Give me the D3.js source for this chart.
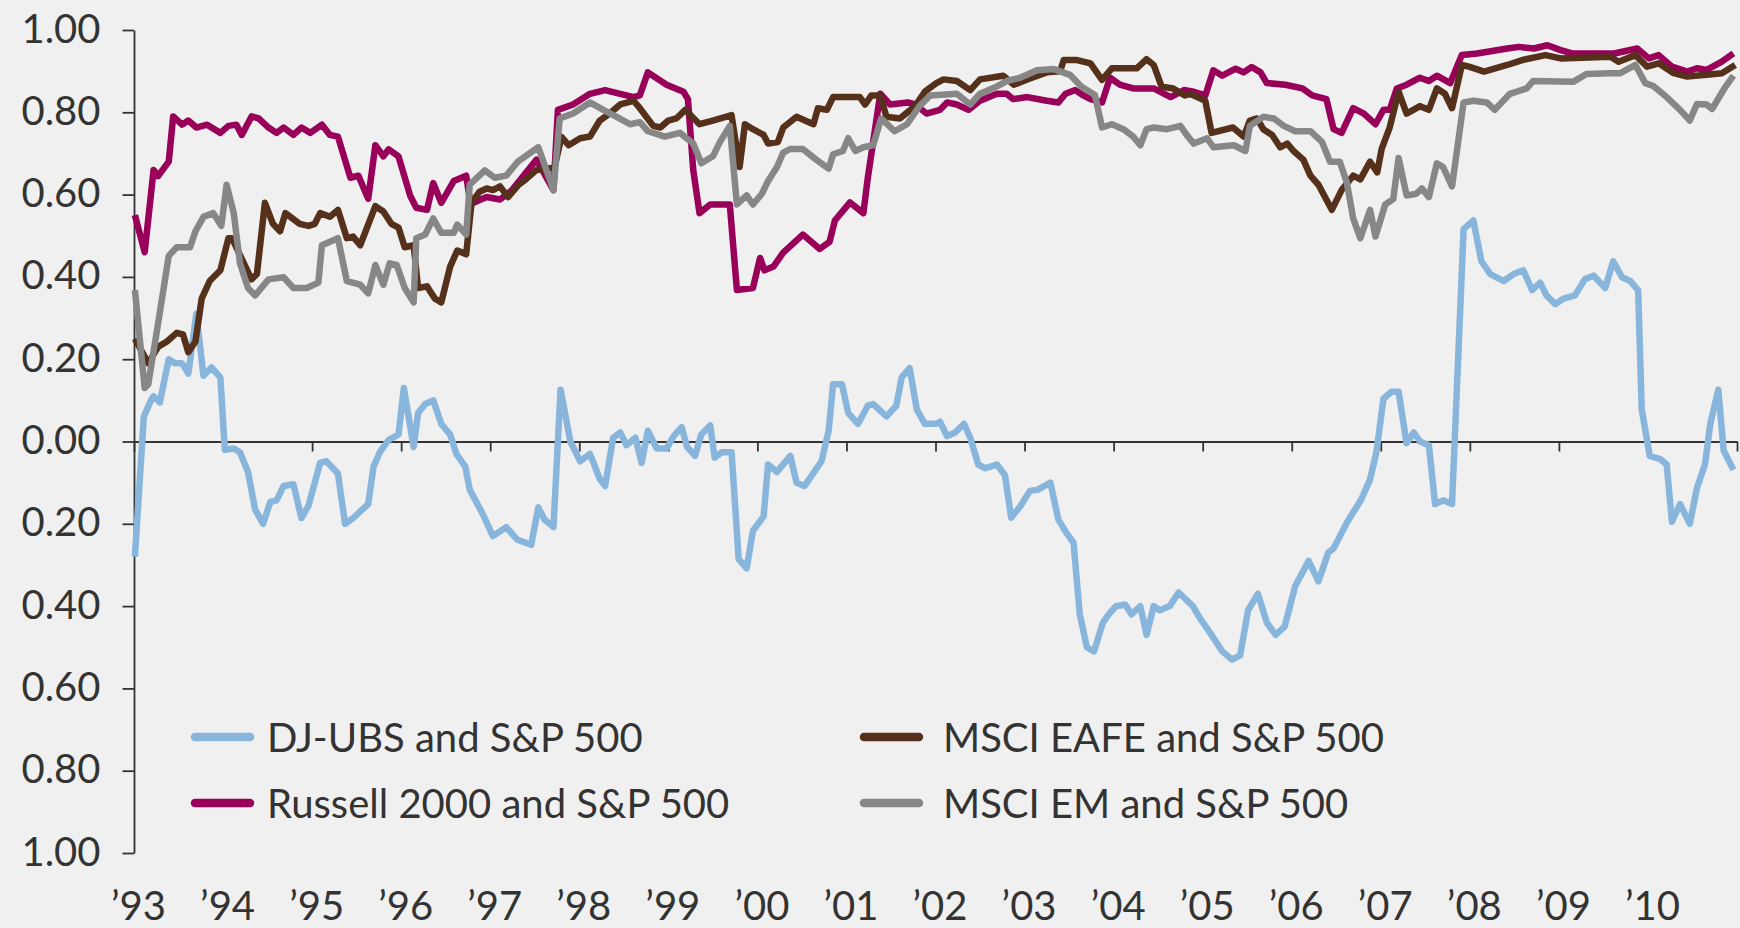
<!DOCTYPE html>
<html>
<head>
<meta charset="utf-8">
<script src="https://cdn.jsdelivr.net/npm/d3@7"></script>
<style>
  html, body { margin: 0; padding: 0; background: #f0f0f0; }
  svg { display: block; }
  text { font-family: Lato, 'Open Sans', sans-serif; fill: #333; }
</style>
</head>
<body>
<div id="chart"></div>
<script>
// ── Axis values ──────────────────────────────────────────────
const YEARS = d3.range(1993, 2012);                 // tick at every Jan
const YEAR_LABELS = ['’93','’94','’95','’96','’97','’98','’99','’00','’01',
  '’02','’03','’04','’05','’06','’07','’08','’09','’10'];
const Y_TICKS = [-1, -0.8, -0.6, -0.4, -0.2, 0, 0.2, 0.4, 0.6, 0.8, 1];

// ── Series: [decimal year, correlation] ─────────────────────
const DJUBS = [
  [1993.01,-0.28],[1993.11,0.06],[1993.19,0.10],[1993.22,0.11],[1993.29,0.095],[1993.39,0.20],
  [1993.46,0.19],[1993.54,0.19],[1993.61,0.165],[1993.70,0.31],[1993.78,0.16],[1993.87,0.18],
  [1993.97,0.155],[1994.02,-0.02],[1994.12,-0.017],[1994.19,-0.026],[1994.28,-0.074],[1994.36,-0.165],
  [1994.45,-0.20],[1994.53,-0.147],[1994.60,-0.143],[1994.68,-0.108],[1994.79,-0.104],[1994.88,-0.186],
  [1994.96,-0.156],[1995.09,-0.052],[1995.16,-0.048],[1995.29,-0.078],[1995.37,-0.20],[1995.46,-0.186],
  [1995.63,-0.152],[1995.69,-0.061],[1995.76,-0.026],[1995.86,0.004],[1995.97,0.017],[1996.03,0.13],
  [1996.14,-0.013],[1996.19,0.069],[1996.27,0.091],[1996.36,0.10],[1996.45,0.043],[1996.55,0.017],
  [1996.62,-0.03],[1996.72,-0.061],[1996.77,-0.117],[1996.92,-0.178],[1997.03,-0.23],[1997.18,-0.208],
  [1997.30,-0.238],[1997.46,-0.251],[1997.54,-0.16],[1997.61,-0.19],[1997.71,-0.208],[1997.79,0.126],
  [1997.90,0.0],[1998.01,-0.048],[1998.12,-0.03],[1998.23,-0.091],[1998.29,-0.108],[1998.38,0.009],
  [1998.46,0.022],[1998.53,-0.009],[1998.63,0.009],[1998.70,-0.052],[1998.77,0.026],[1998.87,-0.017],
  [1998.98,-0.017],[1999.06,0.013],[1999.15,0.035],[1999.21,-0.013],[1999.30,-0.035],[1999.37,0.017],
  [1999.47,0.039],[1999.52,-0.039],[1999.60,-0.026],[1999.71,-0.026],[1999.79,-0.286],[1999.88,-0.308],
  [1999.95,-0.217],[2000.07,-0.182],[2000.12,-0.056],[2000.22,-0.074],[2000.37,-0.035],[2000.44,-0.10],
  [2000.53,-0.108],[2000.72,-0.048],[2000.80,0.026],[2000.85,0.139],[2000.95,0.139],[2001.02,0.069],
  [2001.13,0.043],[2001.24,0.087],[2001.30,0.091],[2001.45,0.061],[2001.56,0.087],[2001.62,0.156],
  [2001.71,0.178],[2001.79,0.078],[2001.88,0.043],[2002.01,0.043],[2002.05,0.048],[2002.13,0.013],
  [2002.22,0.022],[2002.32,0.043],[2002.39,0.009],[2002.48,-0.056],[2002.56,-0.065],[2002.69,-0.056],
  [2002.78,-0.082],[2002.85,-0.185],[2002.95,-0.158],[2003.06,-0.12],[2003.15,-0.117],[2003.29,-0.10],
  [2003.38,-0.19],[2003.47,-0.222],[2003.55,-0.246],[2003.62,-0.42],[2003.70,-0.50],[2003.78,-0.51],
  [2003.88,-0.44],[2003.96,-0.416],[2004.03,-0.40],[2004.13,-0.396],[2004.20,-0.42],[2004.30,-0.40],
  [2004.37,-0.47],[2004.45,-0.40],[2004.52,-0.41],[2004.63,-0.40],[2004.73,-0.367],[2004.89,-0.40],
  [2004.97,-0.43],[2005.10,-0.47],[2005.22,-0.51],[2005.33,-0.53],[2005.42,-0.52],[2005.51,-0.41],
  [2005.62,-0.37],[2005.72,-0.44],[2005.82,-0.47],[2005.92,-0.45],[2006.04,-0.351],[2006.19,-0.29],
  [2006.30,-0.34],[2006.41,-0.27],[2006.47,-0.26],[2006.62,-0.197],[2006.78,-0.141],[2006.88,-0.092],
  [2006.95,-0.027],[2007.03,0.104],[2007.12,0.121],[2007.20,0.121],[2007.29,-0.004],[2007.37,0.022],
  [2007.44,0.0],[2007.54,-0.009],[2007.61,-0.152],[2007.70,-0.143],[2007.80,-0.152],[2007.93,0.516],
  [2008.04,0.537],[2008.13,0.438],[2008.23,0.407],[2008.38,0.39],[2008.49,0.407],[2008.60,0.416],
  [2008.70,0.368],[2008.79,0.386],[2008.86,0.355],[2008.96,0.334],[2009.05,0.347],[2009.18,0.355],
  [2009.29,0.394],[2009.39,0.403],[2009.52,0.373],[2009.61,0.438],[2009.71,0.399],[2009.80,0.39],
  [2009.89,0.368],[2009.93,0.078],[2010.02,-0.035],[2010.14,-0.043],[2010.21,-0.056],[2010.27,-0.195],
  [2010.36,-0.152],[2010.47,-0.20],[2010.55,-0.113],[2010.64,-0.056],[2010.70,0.043],[2010.79,0.126],
  [2010.85,-0.022],[2010.96,-0.069]
];

const RUSSELL = [
  [1993.01,0.55],[1993.12,0.46],[1993.22,0.66],[1993.27,0.645],[1993.39,0.68],[1993.44,0.79],
  [1993.54,0.77],[1993.61,0.78],[1993.70,0.763],[1993.82,0.77],[1993.97,0.75],[1994.06,0.767],
  [1994.15,0.77],[1994.21,0.745],[1994.32,0.79],[1994.40,0.785],[1994.51,0.763],[1994.60,0.75],
  [1994.68,0.763],[1994.79,0.745],[1994.88,0.763],[1994.98,0.75],[1995.11,0.77],[1995.20,0.745],
  [1995.29,0.741],[1995.43,0.641],[1995.52,0.646],[1995.63,0.59],[1995.71,0.72],[1995.80,0.693],
  [1995.86,0.71],[1995.97,0.693],[1996.10,0.598],[1996.17,0.568],[1996.29,0.563],[1996.36,0.628],
  [1996.45,0.58],[1996.59,0.633],[1996.73,0.646],[1996.77,0.59],[1996.81,0.58],[1996.96,0.594],
  [1997.11,0.588],[1997.24,0.61],[1997.52,0.685],[1997.71,0.611],[1997.76,0.806],[1997.93,0.819],
  [1998.12,0.845],[1998.29,0.854],[1998.46,0.845],[1998.61,0.837],[1998.68,0.841],[1998.77,0.897],
  [1998.98,0.867],[1999.17,0.85],[1999.22,0.832],[1999.28,0.659],[1999.35,0.555],[1999.47,0.576],
  [1999.69,0.576],[1999.77,0.368],[1999.95,0.373],[2000.03,0.446],[2000.08,0.416],[2000.18,0.425],
  [2000.29,0.459],[2000.51,0.503],[2000.70,0.468],[2000.81,0.485],[2000.87,0.537],[2001.04,0.581],
  [2001.19,0.555],[2001.24,0.641],[2001.38,0.845],[2001.49,0.819],[2001.69,0.824],[2001.77,0.819],
  [2001.90,0.797],[2002.05,0.806],[2002.13,0.824],[2002.24,0.819],[2002.37,0.806],[2002.50,0.828],
  [2002.69,0.845],[2002.80,0.845],[2002.87,0.832],[2003.03,0.837],[2003.25,0.828],[2003.38,0.824],
  [2003.46,0.845],[2003.57,0.854],[2003.66,0.841],[2003.74,0.832],[2003.87,0.824],[2003.96,0.884],
  [2004.07,0.867],[2004.22,0.858],[2004.45,0.858],[2004.64,0.837],[2004.79,0.854],[2004.90,0.85],
  [2005.03,0.841],[2005.12,0.902],[2005.22,0.889],[2005.37,0.906],[2005.46,0.897],[2005.55,0.91],
  [2005.65,0.897],[2005.72,0.871],[2005.93,0.867],[2006.12,0.858],[2006.23,0.841],[2006.39,0.832],
  [2006.47,0.759],[2006.56,0.75],[2006.69,0.81],[2006.81,0.797],[2006.94,0.771],[2007.03,0.806],
  [2007.10,0.806],[2007.18,0.858],[2007.29,0.867],[2007.44,0.884],[2007.54,0.876],[2007.63,0.889],
  [2007.78,0.871],[2007.91,0.939],[2008.08,0.943],[2008.42,0.955],[2008.55,0.959],[2008.72,0.955],
  [2008.87,0.963],[2009.02,0.951],[2009.15,0.943],[2009.62,0.943],[2009.88,0.955],[2010.01,0.931],
  [2010.12,0.939],[2010.27,0.911],[2010.44,0.899],[2010.55,0.907],[2010.66,0.903],[2010.83,0.923],
  [2010.96,0.943]
];

const EAFE = [
  [1993.01,0.25],[1993.16,0.19],[1993.27,0.23],[1993.37,0.243],[1993.48,0.264],[1993.55,0.26],
  [1993.61,0.217],[1993.69,0.243],[1993.76,0.347],[1993.85,0.39],[1993.97,0.416],[1994.06,0.494],
  [1994.10,0.494],[1994.32,0.394],[1994.38,0.407],[1994.47,0.58],[1994.56,0.529],[1994.64,0.511],
  [1994.70,0.555],[1994.86,0.529],[1994.96,0.524],[1995.03,0.529],[1995.09,0.555],[1995.20,0.546],
  [1995.29,0.563],[1995.39,0.494],[1995.46,0.498],[1995.54,0.477],[1995.71,0.572],[1995.80,0.559],
  [1995.89,0.529],[1995.97,0.52],[1996.04,0.472],[1996.14,0.477],[1996.19,0.373],[1996.29,0.377],
  [1996.38,0.347],[1996.45,0.338],[1996.55,0.425],[1996.63,0.464],[1996.73,0.455],[1996.79,0.58],
  [1996.88,0.607],[1996.96,0.615],[1997.03,0.611],[1997.11,0.62],[1997.20,0.594],[1997.32,0.624],
  [1997.40,0.637],[1997.52,0.66],[1997.72,0.665],[1997.80,0.74],[1997.88,0.72],[1998.01,0.737],
  [1998.12,0.741],[1998.23,0.78],[1998.34,0.797],[1998.46,0.819],[1998.61,0.828],[1998.68,0.81],
  [1998.83,0.767],[1998.91,0.763],[1999.00,0.78],[1999.09,0.785],[1999.19,0.806],[1999.35,0.771],
  [1999.50,0.78],[1999.71,0.793],[1999.80,0.667],[1999.86,0.771],[1999.95,0.759],[2000.07,0.745],
  [2000.12,0.724],[2000.23,0.728],[2000.29,0.763],[2000.44,0.789],[2000.63,0.771],[2000.68,0.81],
  [2000.78,0.806],[2000.85,0.837],[2001.15,0.837],[2001.21,0.819],[2001.28,0.841],[2001.38,0.841],
  [2001.45,0.789],[2001.60,0.785],[2001.77,0.815],[2001.88,0.85],[2002.01,0.871],[2002.09,0.88],
  [2002.24,0.876],[2002.39,0.854],[2002.50,0.88],[2002.76,0.889],[2002.88,0.867],[2003.03,0.88],
  [2003.25,0.897],[2003.40,0.90],[2003.44,0.927],[2003.59,0.927],[2003.74,0.919],[2003.87,0.879],
  [2003.98,0.907],[2004.26,0.907],[2004.37,0.929],[2004.45,0.915],[2004.54,0.862],[2004.67,0.858],
  [2004.80,0.841],[2004.86,0.845],[2005.03,0.828],[2005.10,0.75],[2005.34,0.763],[2005.46,0.741],
  [2005.53,0.78],[2005.61,0.785],[2005.68,0.759],[2005.78,0.745],[2005.87,0.715],[2005.95,0.724],
  [2006.02,0.706],[2006.13,0.685],[2006.21,0.646],[2006.30,0.624],[2006.45,0.563],[2006.56,0.611],
  [2006.69,0.646],[2006.77,0.637],[2006.88,0.68],[2006.96,0.654],[2007.01,0.711],[2007.10,0.763],
  [2007.20,0.85],[2007.29,0.797],[2007.44,0.815],[2007.54,0.806],[2007.63,0.858],[2007.72,0.845],
  [2007.80,0.81],[2007.91,0.915],[2007.99,0.911],[2008.16,0.899],[2008.42,0.915],[2008.59,0.927],
  [2008.85,0.939],[2009.02,0.931],[2009.58,0.935],[2009.67,0.923],[2009.86,0.939],[2009.99,0.911],
  [2010.12,0.919],[2010.29,0.895],[2010.44,0.887],[2010.66,0.891],[2010.83,0.895],[2010.98,0.915]
];

const EM = [
  [1993.01,0.368],[1993.12,0.13],[1993.16,0.139],[1993.27,0.286],[1993.39,0.451],[1993.48,0.472],
  [1993.63,0.472],[1993.69,0.511],[1993.78,0.546],[1993.89,0.555],[1993.98,0.524],[1994.04,0.624],
  [1994.12,0.555],[1994.19,0.433],[1994.28,0.373],[1994.36,0.355],[1994.51,0.394],[1994.68,0.399],
  [1994.79,0.373],[1994.94,0.373],[1995.07,0.386],[1995.11,0.477],[1995.29,0.494],[1995.39,0.39],
  [1995.54,0.381],[1995.63,0.36],[1995.71,0.429],[1995.80,0.381],[1995.87,0.433],[1995.95,0.429],
  [1996.04,0.373],[1996.14,0.338],[1996.17,0.494],[1996.27,0.503],[1996.36,0.542],[1996.45,0.507],
  [1996.59,0.507],[1996.63,0.527],[1996.73,0.503],[1996.77,0.624],[1996.94,0.659],[1997.05,0.641],
  [1997.18,0.646],[1997.31,0.68],[1997.54,0.715],[1997.71,0.611],[1997.78,0.785],[1997.93,0.797],
  [1998.12,0.824],[1998.27,0.806],[1998.42,0.789],[1998.57,0.771],[1998.68,0.776],[1998.77,0.754],
  [1998.96,0.741],[1999.13,0.75],[1999.28,0.724],[1999.37,0.676],[1999.50,0.693],[1999.58,0.728],
  [1999.69,0.767],[1999.77,0.576],[1999.88,0.598],[1999.95,0.576],[2000.05,0.602],[2000.12,0.633],
  [2000.22,0.667],[2000.29,0.702],[2000.37,0.711],[2000.51,0.711],[2000.66,0.685],[2000.80,0.663],
  [2000.85,0.698],[2000.96,0.706],[2001.02,0.737],[2001.10,0.706],[2001.19,0.715],[2001.30,0.72],
  [2001.39,0.785],[2001.54,0.754],[2001.68,0.771],[2001.82,0.815],[2001.94,0.841],[2002.24,0.845],
  [2002.39,0.819],[2002.50,0.845],[2002.69,0.863],[2002.80,0.876],[2002.95,0.884],[2003.14,0.902],
  [2003.33,0.905],[2003.51,0.891],[2003.64,0.862],[2003.79,0.842],[2003.87,0.763],[2003.98,0.771],
  [2004.11,0.759],[2004.22,0.741],[2004.30,0.72],[2004.37,0.759],[2004.45,0.763],[2004.60,0.759],
  [2004.75,0.767],[2004.82,0.745],[2004.90,0.724],[2005.05,0.737],[2005.12,0.715],[2005.35,0.72],
  [2005.48,0.706],[2005.53,0.767],[2005.68,0.789],[2005.80,0.785],[2005.91,0.767],[2006.04,0.754],
  [2006.21,0.754],[2006.34,0.728],[2006.43,0.68],[2006.54,0.68],[2006.62,0.628],[2006.69,0.542],
  [2006.77,0.494],[2006.88,0.563],[2006.94,0.498],[2007.05,0.576],[2007.14,0.589],[2007.20,0.689],
  [2007.29,0.598],[2007.40,0.602],[2007.46,0.615],[2007.54,0.594],[2007.63,0.676],[2007.70,0.667],
  [2007.80,0.62],[2007.93,0.824],[2008.04,0.828],[2008.19,0.824],[2008.28,0.806],[2008.45,0.845],
  [2008.64,0.858],[2008.71,0.876],[2009.16,0.874],[2009.31,0.893],[2009.57,0.895],[2009.69,0.895],
  [2009.86,0.915],[2009.97,0.871],[2010.06,0.864],[2010.21,0.837],[2010.36,0.806],[2010.47,0.78],
  [2010.55,0.82],[2010.66,0.819],[2010.72,0.808],[2010.87,0.862],[2010.96,0.889]
];

const SERIES_LABELS = ['DJ-UBS and S&P 500', 'Russell 2000 and S&P 500',
  'MSCI EAFE and S&P 500', 'MSCI EM and S&P 500'];

// ── Layout / style ───────────────────────────────────────────
const W = 1740, H = 928;
const COLORS = {
  djubs:   '#88b5dc',
  russell: '#990059',
  eafe:    '#55301a',
  em:      '#878787',
  axis:    '#333333',
};
const FONT = 40;

const x = d3.scaleLinear().domain([1993, 2011]).range([134, 1737]);
const y = d3.scaleLinear().domain([-1, 1]).range([853, 30]);

const svg = d3.select('#chart').append('svg')
  .attr('width', W).attr('height', H)
  .attr('viewBox', `0 0 ${W} ${H}`);

svg.append('rect').attr('width', W).attr('height', H).attr('fill', '#f0f0f0');

// ── Y axis ───────────────────────────────────────────────────
const yAxis = svg.append('g')
  .attr('transform', `translate(${x(1993)},0)`)
  .call(d3.axisLeft(y)
    .tickValues(Y_TICKS)
    .tickSize(11.5)
    .tickSizeOuter(0)
    .tickPadding(22)
    .tickFormat(d => Math.abs(d).toFixed(2)));
yAxis.selectAll('path, line').attr('stroke', COLORS.axis).attr('stroke-width', 1.8);
yAxis.selectAll('text')
  .attr('font-size', FONT).attr('fill', COLORS.axis)
  .attr('font-family', 'Lato, sans-serif')
  .attr('dy', '0.3em');

// ── X axis on the zero line ──────────────────────────────────
const xAxis = svg.append('g')
  .attr('transform', `translate(0,${y(0)})`)
  .call(d3.axisBottom(x)
    .tickValues(YEARS)
    .tickSize(10)
    .tickSizeOuter(0)
    .tickFormat(''));
xAxis.selectAll('path, line').attr('stroke', COLORS.axis).attr('stroke-width', 1.8);

// ── Year labels along the bottom ─────────────────────────────
const xLabels = svg.append('g')
  .attr('transform', 'translate(0,920)')
  .call(d3.axisBottom(x)
    .tickValues(YEARS.slice(0, YEAR_LABELS.length))
    .tickSize(0)
    .tickFormat((d, i) => YEAR_LABELS[i]));
xLabels.select('.domain').remove();
xLabels.selectAll('text')
  .attr('y', 0).attr('dy', null).attr('dx', 4)
  .attr('font-size', FONT).attr('fill', COLORS.axis)
  .attr('font-family', 'Lato, sans-serif');

// ── Lines ────────────────────────────────────────────────────
const line = d3.line().x(d => x(d[0])).y(d => y(d[1]));

[[DJUBS, COLORS.djubs], [RUSSELL, COLORS.russell], [EAFE, COLORS.eafe], [EM, COLORS.em]]
  .forEach(([data, color]) => {
    svg.append('path')
      .datum(data)
      .attr('d', line)
      .attr('fill', 'none')
      .attr('stroke', color)
      .attr('stroke-width', 6.5)
      .attr('stroke-linejoin', 'round');
  });

// ── Legend ───────────────────────────────────────────────────
const legendItems = [
  { label: SERIES_LABELS[0], color: COLORS.djubs,   col: 0, row: 0 },
  { label: SERIES_LABELS[1], color: COLORS.russell, col: 0, row: 1 },
  { label: SERIES_LABELS[2], color: COLORS.eafe,    col: 1, row: 0 },
  { label: SERIES_LABELS[3], color: COLORS.em,      col: 1, row: 1 },
];
const colLineX = [191, 860];
const colTextX = [267, 943];
const rowY = [737, 803];

const legend = svg.append('g');
legendItems.forEach(it => {
  const lx = colLineX[it.col], ly = rowY[it.row];
  legend.append('line')
    .attr('x1', lx + 4).attr('x2', lx + 59)
    .attr('y1', ly).attr('y2', ly)
    .attr('stroke', it.color).attr('stroke-width', 8.5)
    .attr('stroke-linecap', 'round');
  legend.append('text')
    .attr('x', colTextX[it.col]).attr('y', ly + 15)
    .attr('font-size', FONT).attr('fill', COLORS.axis)
    .attr('font-family', 'Lato, sans-serif')
    .text(it.label);
});
</script>
</body>
</html>
